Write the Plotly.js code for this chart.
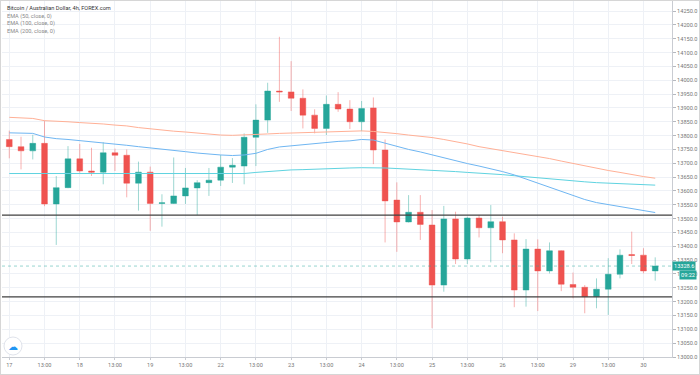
<!DOCTYPE html>
<html>
<head>
<meta charset="utf-8">
<script src="https://cdn.plot.ly/plotly-3.0.1.min.js"></script>
<style>
  html, body { margin: 0; padding: 0; background: #fff; }
  #wrap { position: relative; width: 700px; height: 375px; }
  #chart { width: 700px; height: 375px; }
  #frame { position: absolute; left: 0; top: 0; width: 700px; height: 375px; box-sizing: border-box; border: 1px solid #d6d6d6; pointer-events: none; }
</style>
</head>
<body>
<div id="wrap"><div id="chart"></div><div id="frame"></div></div>
<script>
// ---- data (4h bars, BTC/AUD, FOREX.com) ----
const barIndex = [0,1,2,3,4,5,6,7,8,9,10,11,12,13,14,15,16,17,18,19,20,21,22,23,24,25,26,27,28,29,30,31,32,33,34,35,36,37,38,39,40,41,42,43,44,45,46,47,48,49,50,51,52,53,54,55];
const opens  = [13786,13760,13745,13772,13553,13612,13716,13672,13668,13738,13729,13628,13668,13555,13555,13582,13611,13630,13639,13686,13690,13794,13856,13961,13958,13935,13874,13826,13913,13896,13850,13900,13748,13567,13488,13523,13477,13260,13499,13354,13502,13467,13489,13423,13242,13390,13311,13384,13262,13252,13218,13245,13299,13370,13368,13311];
const highs  = [13818,13796,13803,13854,13654,13762,13770,13756,13776,13753,13750,13706,13688,13588,13721,13683,13639,13683,13730,13719,13808,13913,13991,14157,14069,13967,13895,13945,13957,13928,13925,13938,13786,13631,13585,13585,13531,13546,13525,13507,13513,13549,13507,13447,13426,13425,13414,13386,13305,13260,13284,13357,13389,13453,13393,13360];
const lows   = [13718,13678,13714,13545,13405,13610,13666,13654,13624,13672,13577,13529,13456,13471,13553,13553,13513,13582,13618,13629,13624,13690,13810,13922,13889,13826,13808,13802,13886,13824,13816,13697,13414,13380,13486,13423,13104,13236,13336,13336,13432,13342,13375,13180,13182,13166,13302,13238,13212,13158,13176,13152,13284,13336,13302,13276];
const closes = [13760,13745,13772,13553,13612,13716,13672,13668,13738,13729,13628,13668,13555,13557,13582,13611,13630,13639,13686,13693,13794,13856,13961,13958,13935,13874,13826,13913,13896,13850,13898,13748,13564,13488,13523,13479,13260,13499,13354,13502,13467,13489,13423,13242,13390,13311,13384,13263,13252,13218,13245,13299,13368,13367,13311,13328.6];
const ema50  = [13810,13809,13808,13795,13789,13786,13782,13779,13774,13770,13765,13760,13756,13751,13747,13742,13737,13733,13730,13728,13730,13736,13750,13759,13763,13768,13772,13775,13779,13781,13786,13784,13772,13760,13750,13741,13730,13719,13708,13699,13690,13681,13670,13658,13643,13627,13612,13598,13583,13569,13558,13551,13544,13537,13529,13522];
const ema100 = [13866,13864,13862,13854,13853,13850,13847,13845,13842,13838,13835,13829,13824,13820,13816,13813,13809,13806,13802,13801,13802,13804,13806,13808,13809,13811,13812,13814,13815,13816,13817,13815,13812,13807,13802,13798,13793,13786,13779,13770,13760,13753,13746,13739,13732,13724,13717,13708,13699,13690,13681,13674,13667,13659,13652,13646];
const ema200 = [13663,13663,13663,13662,13662,13662,13662,13662,13662,13662,13661,13661,13661,13661,13661,13661,13661,13661,13661,13661,13663,13667,13670,13674,13676,13677,13679,13680,13682,13683,13684,13684,13683,13681,13679,13677,13676,13673,13670,13667,13665,13662,13659,13655,13651,13647,13643,13639,13636,13633,13630,13628,13626,13624,13622,13621];
const levels = [13513, 13217];
const tickIdx  = [0,3,6,9,12,15,18,21,24,27,30,33,36,39,42,45,48,51,54];
const tickText = ['17','13:00','18','13:00','19','13:00','22','13:00','23','13:00','24','13:00','25','13:00','26','13:00','29','13:00','30'];
const legendLines = ['Bitcoin / Australian Dollar, 4h, FOREX.com','EMA (50, close, 0)','EMA (100, close, 0)','EMA (200, close, 0)'];
const countdown = '09:22';

const UP = '#26a69a', DOWN = '#ef5350';
const FONT = 'Roboto, "Liberation Sans", Arial, sans-serif';

const traces = [
  { type: 'scatter', mode: 'lines', x: barIndex, y: ema200, line: { color: '#5fd3e0', width: 1 }, hoverinfo: 'skip' },
  { type: 'scatter', mode: 'lines', x: barIndex, y: ema100, line: { color: '#ffb096', width: 1 }, hoverinfo: 'skip' },
  { type: 'scatter', mode: 'lines', x: barIndex, y: ema50,  line: { color: '#6fb6f2', width: 1 }, hoverinfo: 'skip' },
  {
    type: 'candlestick', x: barIndex, open: opens, high: highs, low: lows, close: closes,
    increasing: { line: { color: 'rgba(38,166,154,0.45)', width: 1 }, fillcolor: UP },
    decreasing: { line: { color: 'rgba(239,83,80,0.45)', width: 1 }, fillcolor: DOWN },
    whiskerwidth: 0, hoverinfo: 'skip'
  }
];

const last = closes[closes.length - 1];
const shapes = levels.map(v => ({
  type: 'line', xref: 'paper', x0: 0, x1: 1, yref: 'y', y0: v, y1: v,
  line: { color: '#404040', width: 1.3 }
}));
shapes.push({ type: 'line', xref: 'paper', x0: 0, x1: 1, yref: 'y', y0: last, y1: last,
  line: { color: 'rgba(38,166,154,0.6)', width: 0.8, dash: 'dot' } });
shapes.push({ type: 'circle', xref: 'paper', yref: 'paper', xsizemode: 'pixel', ysizemode: 'pixel',
  xanchor: 0, yanchor: 0, x0: 2, x1: 20, y0: 2, y1: 20, fillcolor: '#ffffff', line: { color: '#e0e3eb', width: 1 } });

const annotations = legendLines.map((t, i) => ({
  xref: 'paper', yref: 'paper', x: 0, y: 1, xanchor: 'left', yanchor: 'top',
  xshift: 3, yshift: -3 - i * 7.7, showarrow: false, text: t,
  font: { family: FONT, size: 5.6, color: i === 0 ? '#333333' : '#8a8a8a' }
}));
annotations.push({ xref: 'paper', yref: 'y', x: 1, y: last, xanchor: 'left', yanchor: 'middle', showarrow: false,
  text: last.toFixed(1), bgcolor: UP, borderpad: 1, font: { family: FONT, size: 5.6, color: '#ffffff' } });
annotations.push({ xref: 'paper', yref: 'y', x: 1, y: last, xanchor: 'left', yanchor: 'middle', showarrow: false,
  xshift: 7, yshift: -8.5, text: countdown, bgcolor: UP, borderpad: 1, font: { family: FONT, size: 5.6, color: '#ffffff' } });
annotations.push({ xref: 'paper', yref: 'paper', x: 0, y: 0, xanchor: 'center', yanchor: 'middle', xshift: 11, yshift: 11,
  showarrow: false, text: '☁', font: { family: 'DejaVu Sans', size: 10, color: '#2196f3' } });

const layout = {
  width: 700, height: 375,
  margin: { l: 2, r: 28, t: 0, b: 18 },
  paper_bgcolor: '#ffffff', plot_bgcolor: '#ffffff',
  showlegend: false, hovermode: false,
  font: { family: FONT, size: 5.6, color: '#777' },
  xaxis: {
    type: 'linear', range: [-0.62, 56.43],
    tickmode: 'array', tickvals: tickIdx, ticktext: tickText,
    showgrid: true, gridcolor: '#eef1f6', gridwidth: 1,
    showline: true, linecolor: '#c9ccd2', linewidth: 1, mirror: false,
    ticks: 'outside', ticklen: 2, tickcolor: '#c9ccd2',
    tickfont: { family: FONT, size: 5.6, color: '#777' },
    zeroline: false, rangeslider: { visible: false }, fixedrange: true
  },
  yaxis: {
    side: 'right', range: [13000, 14290],
    tickmode: 'linear', tick0: 13000, dtick: 50, tickformat: '.1f',
    showgrid: true, gridcolor: '#eef1f6', gridwidth: 1,
    showline: true, linecolor: '#c9ccd2', linewidth: 1,
    ticks: 'outside', ticklen: 3, tickcolor: '#b5b8bf',
    tickfont: { family: FONT, size: 5.6, color: '#777' },
    zeroline: false, fixedrange: true
  },
  shapes: shapes,
  annotations: annotations
};

Plotly.newPlot('chart', traces, layout, { displayModeBar: false, staticPlot: true });
</script>
</body>
</html>
